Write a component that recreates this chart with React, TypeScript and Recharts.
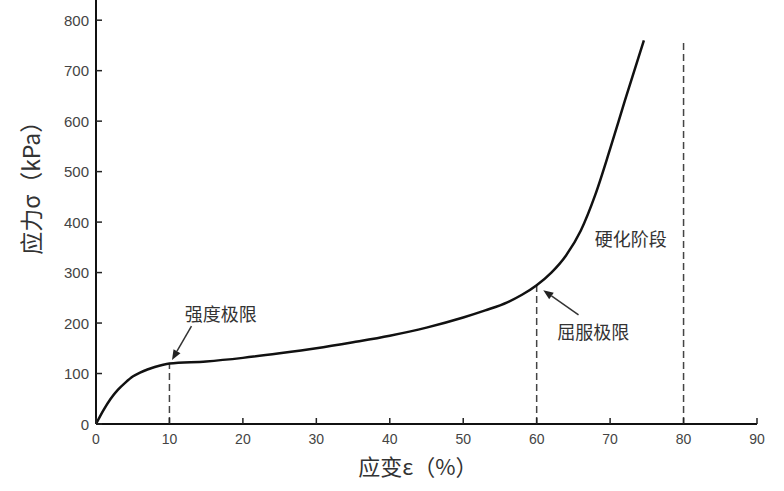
import {
  LineChart,
  Line,
  XAxis,
  YAxis,
  ReferenceLine,
  ReferenceDot,
} from "recharts";

// strain (%) and stress (kPa)
const strain = [0, 1, 2, 3, 4, 5, 6, 7, 8, 10, 15, 20, 25, 30, 35, 40, 45, 50, 53, 56, 58, 60, 62, 64, 66, 68, 70, 72, 74.6];
const stress = [0, 27, 50, 68, 82, 94, 102, 108, 113, 120, 124, 131, 140, 150, 162, 175, 191, 211, 225, 241, 256, 275, 300, 334, 383, 455, 545, 640, 760];

const xTicks = [0, 10, 20, 30, 40, 50, 60, 70, 80, 90];
const yTicks = [0, 100, 200, 300, 400, 500, 600, 700, 800];

// dashed guide lines: [x, top]
const guides = [
  [10, 120],
  [60, 275],
  [80, 755],
];

// annotation arrows: [tailX, tailY, headX, headY]
const arrows = [
  [13.0, 194, 10.35, 127],
  [65.7, 216, 60.9, 265],
];

const notes = [
  { text: "强度极限", x: 17.0, y: 216 },
  { text: "屈服极限", x: 67.7, y: 180 },
  { text: "硬化阶段", x: 72.8, y: 364 },
];

const data = strain.map((s, i) => ({ strain: s, stress: stress[i] }));

const FONT = "'Liberation Sans', Arial, sans-serif";
const CJK = "'Noto Sans CJK SC', sans-serif";

const XTick = (props: any) => {
  const { x, y, payload } = props;
  return (
    <g>
      <line x1={x} y1={y} x2={x} y2={y - 6} stroke="#222" strokeWidth={1.5} />
      <text x={x} y={y + 20} textAnchor="middle" fontSize={14} fill="#444" fontFamily={FONT}>
        {payload.value}
      </text>
    </g>
  );
};

const YTick = (props: any) => {
  const { x, y, payload } = props;
  return (
    <g>
      <line x1={x} y1={y} x2={x + 6} y2={y} stroke="#222" strokeWidth={1.5} />
      <text x={x - 7} y={y + 5.5} textAnchor="end" fontSize={15} fill="#444" fontFamily={FONT}>
        {payload.value}
      </text>
    </g>
  );
};

const Arrow = (p: any) => {
  const { x1, y1, x2, y2 } = p;
  const a = Math.atan2(y2 - y1, x2 - x1);
  const len = 10;
  const w = 4;
  const bx = x2 - len * Math.cos(a);
  const by = y2 - len * Math.sin(a);
  const pts = [
    `${x2},${y2}`,
    `${bx + w * Math.sin(a)},${by - w * Math.cos(a)}`,
    `${bx - w * Math.sin(a)},${by + w * Math.cos(a)}`,
  ].join(" ");
  return (
    <g>
      <line x1={x1} y1={y1} x2={bx} y2={by} stroke="#333" strokeWidth={1.5} />
      <polygon points={pts} fill="#222" />
    </g>
  );
};

const Note = (text: string) => (p: any) => (
  <text x={p.cx} y={p.cy + 6} textAnchor="middle" fontSize={18} fill="#333" fontFamily={CJK}>
    {text}
  </text>
);

export default function App() {
  return (
    <div style={{ position: "absolute", left: 0, top: 0, background: "#fff" }}>
      <LineChart width={784} height={491} data={data} margin={{ top: 0, right: 27, bottom: 37, left: 36 }}>
        <XAxis
          dataKey="strain"
          type="number"
          domain={[0, 90]}
          ticks={xTicks}
          tick={<XTick />}
          tickLine={false}
          tickSize={0}
          tickMargin={0}
          height={30}
          axisLine={{ stroke: "#111", strokeWidth: 2 }}
          label={{
            content: ({ viewBox }: any) => (
              <text
                x={viewBox.x + viewBox.width * 0.487}
                y={viewBox.y + 51}
                textAnchor="middle"
                fontSize={22}
                fill="#333"
                fontFamily={CJK}
              >
                应变ε（%）
              </text>
            ),
          }}
        />
        <YAxis
          type="number"
          domain={[0, 840]}
          ticks={yTicks}
          tick={<YTick />}
          tickLine={false}
          tickSize={0}
          tickMargin={0}
          width={60}
          axisLine={{ stroke: "#111", strokeWidth: 2 }}
          label={{
            content: ({ viewBox }: any) => {
              const cx = viewBox.x - 6;
              const cy = viewBox.y + viewBox.height * 0.43;
              return (
                <text
                  x={cx}
                  y={cy}
                  transform={`rotate(-90 ${cx} ${cy})`}
                  textAnchor="middle"
                  dominantBaseline="central"
                  fontSize={23}
                  fill="#333"
                  fontFamily={CJK}
                >
                  应力σ（kPa）
                </text>
              );
            },
          }}
        />
        {guides.map(([gx, top], i) => (
          <ReferenceLine
            key={`g-${i}`}
            segment={[
              { x: gx, y: 0 },
              { x: gx, y: top },
            ]}
            stroke="#444"
            strokeWidth={1.5}
            strokeDasharray="7 4"
          />
        ))}
        <Line
          type="monotone"
          dataKey="stress"
          stroke="#111"
          strokeWidth={2.5}
          dot={false}
          isAnimationActive={false}
        />
        {arrows.map(([tx, ty, hx, hy], i) => (
          <ReferenceLine
            key={`a-${i}`}
            segment={[
              { x: tx, y: ty },
              { x: hx, y: hy },
            ]}
            shape={Arrow}
          />
        ))}
        {notes.map((n, i) => (
          <ReferenceDot key={`n-${i}`} x={n.x} y={n.y} r={0} shape={Note(n.text)} />
        ))}
      </LineChart>
    </div>
  );
}
